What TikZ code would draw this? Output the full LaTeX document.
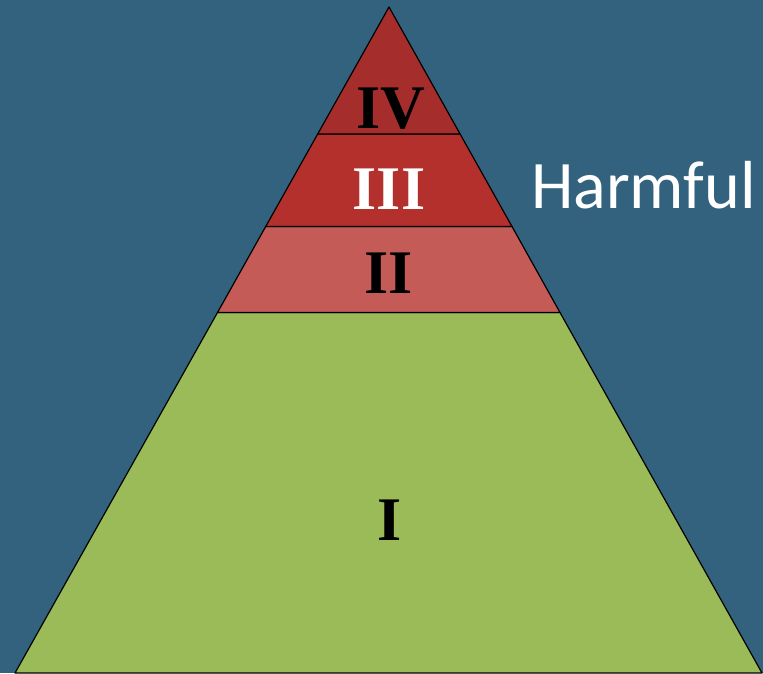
\documentclass[tikz,border=0pt]{standalone}
\usepackage{fontspec}
\setmainfont{Liberation Serif}
\newfontfamily\harmfont{Carlito}
\definecolor{bgblue}{HTML}{33627F}
\definecolor{layerfour}{HTML}{A52D2B}
\definecolor{layerthree}{HTML}{B3302C}
\definecolor{layertwo}{HTML}{C55B57}
\definecolor{layerone}{HTML}{9BBB59}
\tikzset{
  layer/.style={draw=black, line width=1.2pt, line join=round},
  numeral/.style={font=\fontsize{62}{62}\selectfont\bfseries, inner sep=0pt, anchor=base},
}
\begin{document}
\begin{tikzpicture}[x=1pt,y=-1pt]
\fill[bgblue] (0,0) rectangle (763,673);
\useasboundingbox (0,0) rectangle (763,673);
\coordinate (apex) at (389,7);
\coordinate (l1) at (317.7,134);
\coordinate (r1) at (460.1,134);
\coordinate (l2) at (265.7,226.5);
\coordinate (r2) at (512,226.5);
\coordinate (l3) at (217.5,312.5);
\coordinate (r3) at (560,312.5);
\coordinate (l4) at (15,673);
\coordinate (r4) at (762,673);
\filldraw[layer, fill=layerone] (l3) -- (r3) -- (r4) -- (l4) -- cycle;
\filldraw[layer, fill=layertwo] (l2) -- (r2) -- (r3) -- (l3) -- cycle;
\filldraw[layer, fill=layerthree] (l1) -- (r1) -- (r2) -- (l2) -- cycle;
\filldraw[layer, fill=layerfour] (apex) -- (r1) -- (l1) -- cycle;
\node[numeral, text=black] (iv) at (391,128) {IV};
\node[numeral, text=white] (iii) at (389,209) {III};
\node[numeral, text=black] (ii) at (389,293) {II};
\node[numeral, text=black] (i) at (390,540) {I};
\node[font=\harmfont\fontsize{68}{68}\selectfont, text=white, inner sep=0pt, anchor=base west] (harmful) at (531,208) {Harmful};
\end{tikzpicture}
\end{document}
